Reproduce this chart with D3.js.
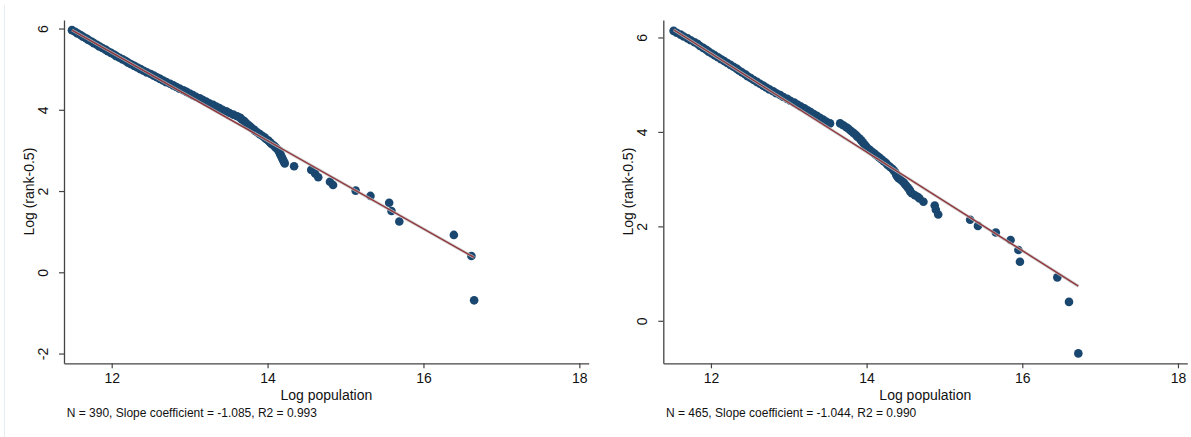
<!DOCTYPE html>
<html>
<head>
<meta charset="utf-8">
<script src="https://cdn.jsdelivr.net/npm/d3@7"></script>
<style>
  html, body { margin: 0; padding: 0; background: #fff; }
  svg { display: block; }
  text { font-family: "Liberation Sans", Arial, Helvetica, sans-serif; fill: #111; }
</style>
</head>
<body>
<svg id="chart" width="1191" height="437"></svg>
<script>
// ---------------- DATA ----------------
const xTicks = [12, 14, 16, 18];
const leftYTicks = [-2, 0, 2, 4, 6];
const rightYTicks = [0, 2, 4, 6];
const xTitle = "Log population";
const yTitle = "Log (rank-0.5)";
const leftCaption = "N = 390, Slope coefficient = -1.085, R2 = 0.993";
const rightCaption = "N = 465, Slope coefficient = -1.044, R2 = 0.990";
const leftSlope = -1.085, leftIntercept = 18.43;
const rightSlope = -1.044, rightIntercept = 18.19;

// Left panel: log population (x) and log(rank-0.5) (y)
const leftLogPop = [
  11.49,11.53,11.56,11.60,11.63,11.67,11.70,11.74,11.77,11.81,11.84,11.88,11.92,11.95,11.99,12.03,
  12.06,12.10,12.14,12.18,12.21,12.25,12.29,12.33,12.37,12.41,12.45,12.50,12.54,12.58,12.62,12.66,
  12.70,12.75,12.79,12.83,12.87,12.92,12.96,13.00,13.04,13.08,13.13,13.17,13.21,13.25,13.30,13.34,
  13.38,13.42,13.47,13.51,13.56,13.61,13.65,13.67,13.70,13.72,13.74,13.77,13.79,13.82,13.84,13.87,
  13.90,13.93,13.96,13.98,14.01,14.03,14.05,14.08,14.10,14.12,14.14,14.15,14.16,14.17,14.18,14.19,
  14.20,14.21,14.22,
  14.34,14.56,14.61,14.65,14.80,14.84,15.13,15.32,15.56,15.59,15.69,16.39,16.615,16.65
];
const leftLogRank = [
  5.96,5.92,5.88,5.84,5.80,5.76,5.72,5.68,5.64,5.60,5.56,5.52,5.48,5.44,5.40,5.36,
  5.32,5.28,5.24,5.20,5.16,5.12,5.08,5.04,5.00,4.96,4.92,4.88,4.84,4.80,4.76,4.72,
  4.68,4.64,4.60,4.56,4.52,4.48,4.44,4.40,4.36,4.32,4.28,4.24,4.20,4.16,4.12,4.08,
  4.04,4.00,3.96,3.92,3.88,3.84,3.80,3.76,3.72,3.68,3.64,3.60,3.56,3.52,3.48,3.44,
  3.40,3.36,3.32,3.28,3.24,3.20,3.16,3.12,3.08,3.04,3.00,2.96,2.92,2.88,2.84,2.80,
  2.76,2.72,2.68,
  2.61,2.52,2.43,2.34,2.23,2.15,2.01,1.88,1.71,1.51,1.25,0.92,0.40,-0.69
];

// Right panel
const rightLogPop = [
  11.52,11.56,11.61,11.65,11.70,11.74,11.79,11.83,11.86,11.90,11.94,11.97,12.01,12.05,12.09,12.13,
  12.17,12.21,12.25,12.29,12.33,12.36,12.40,12.44,12.47,12.51,12.55,12.59,12.63,12.67,12.71,12.75,
  12.80,12.84,12.89,12.93,12.98,13.02,13.07,13.11,13.15,13.20,13.24,13.28,13.32,13.36,13.40,13.44,
  13.48,13.53,
  13.66,13.70,13.74,13.77,13.80,13.83,13.86,13.88,13.91,13.93,13.95,13.97,13.99,14.01,14.04,14.07,
  14.10,14.13,14.16,14.19,14.22,14.25,14.27,14.30,14.33,14.35,14.37,14.38,14.39,14.41,14.44,14.47,
  14.49,14.51,14.53,14.55,14.56,14.58,14.62,14.66,14.68,
  14.73,14.875,14.89,14.92,15.33,15.43,15.66,15.85,15.95,15.97,16.45,16.60,16.72
];
const rightLogRank = [
  6.14,6.10,6.06,6.02,5.98,5.94,5.90,5.86,5.82,5.78,5.74,5.70,5.66,5.62,5.58,5.54,
  5.50,5.46,5.42,5.38,5.34,5.30,5.26,5.22,5.18,5.14,5.10,5.06,5.02,4.98,4.94,4.90,
  4.86,4.82,4.78,4.74,4.70,4.66,4.62,4.58,4.54,4.50,4.46,4.42,4.38,4.34,4.30,4.26,
  4.22,4.18,
  4.18,4.14,4.10,4.06,4.02,3.98,3.94,3.90,3.86,3.82,3.78,3.74,3.70,3.66,3.62,3.58,
  3.54,3.50,3.46,3.42,3.38,3.34,3.30,3.26,3.22,3.18,3.14,3.10,3.06,3.02,2.98,2.94,
  2.90,2.86,2.82,2.78,2.74,2.70,2.66,2.62,2.59,
  2.52,2.44,2.35,2.25,2.14,2.01,1.87,1.71,1.50,1.25,0.92,0.40,-0.69
];

// ---------------- DRAWING ----------------
const svg = d3.select("#chart");
const dotColor = "#1a476f";
const lineColor = "#90353b";
const fmt = d => String(d);   // plain hyphen-minus, as in the original

// faint graph-region border on the far left
svg.append("line").attr("x1", 4.5).attr("x2", 4.5).attr("y1", 5).attr("y2", 437)
  .attr("stroke", "#e6edf3").attr("stroke-width", 1);

function panel(cfg) {
  const x = d3.scaleLinear().domain(cfg.xDomain).range([cfg.left, cfg.right]);
  const y = d3.scaleLinear().domain(cfg.yDomain).range([cfg.bottom, cfg.top]);
  const g = svg.append("g");

  // y axis
  const ya = g.append("g").attr("transform", `translate(${cfg.left},0)`)
    .call(d3.axisLeft(y).tickValues(cfg.yTicks).tickSize(5).tickSizeOuter(0).tickFormat(fmt));
  ya.select(".domain").attr("stroke", "#444").attr("stroke-width", 1.3);
  ya.selectAll(".tick line").attr("stroke", "#444").attr("stroke-width", 1.2);
  ya.selectAll(".tick text")
    .attr("x", null).attr("dy", null).attr("y", null)
    .attr("transform", "translate(-16,0) rotate(-90)")
    .attr("text-anchor", "middle")
    .style("font-size", "14px").style("font-family", "'Liberation Sans', Arial, sans-serif").attr("fill", "#111");

  // x axis
  const xa = g.append("g").attr("transform", `translate(0,${cfg.bottom})`)
    .call(d3.axisBottom(x).tickValues(xTicks).tickSize(5).tickPadding(5).tickSizeOuter(0).tickFormat(fmt));
  xa.select(".domain").attr("stroke", "#444").attr("stroke-width", 1.3);
  xa.selectAll(".tick line").attr("stroke", "#444").attr("stroke-width", 1.2);
  xa.selectAll(".tick text")
    .style("font-size", "14px").style("font-family", "'Liberation Sans', Arial, sans-serif").attr("fill", "#111");

  // titles
  g.append("text").attr("x", (cfg.left + cfg.right) / 2).attr("y", 400)
    .attr("text-anchor", "middle").style("font-size", "14px").text(xTitle);
  g.append("text")
    .attr("transform", `translate(${cfg.left - 30.5},${(cfg.top + cfg.bottom) / 2}) rotate(-90)`)
    .attr("text-anchor", "middle").style("font-size", "14px").text(yTitle);
  g.append("text").attr("x", cfg.left + 2.7).attr("y", 417)
    .style("font-size", "12px").text(cfg.caption);

  // points
  const pts = cfg.xs.map((v, i) => ({ x: v, y: cfg.ys[i] }));
  g.append("g").selectAll("circle").data(pts).join("circle")
    .attr("cx", d => x(d.x)).attr("cy", d => y(d.y)).attr("r", 4.3)
    .attr("fill", dotColor);

  // fitted line
  const [xmin, xmax] = d3.extent(cfg.xs);
  const fit = [xmin, xmax].map(v => ({ x: v, y: cfg.intercept + cfg.slope * v }));
  const lg = d3.line().x(d => x(d.x)).y(d => y(d.y));
  g.append("path").attr("d", lg(fit)).attr("fill", "none")
    .attr("stroke", "#c4c4c4").attr("stroke-width", 3).attr("stroke-opacity", 0.8);
  g.append("path").attr("d", lg(fit)).attr("fill", "none")
    .attr("stroke", lineColor).attr("stroke-width", 1.4);
}

panel({
  left: 64, right: 588.7, top: 20, bottom: 363.3,
  xDomain: [11.388, 18.12], yDomain: [-2.24, 6.21],
  yTicks: leftYTicks, xs: leftLogPop, ys: leftLogRank,
  slope: leftSlope, intercept: leftIntercept, caption: leftCaption
});
panel({
  left: 663.3, right: 1187.3, top: 20, bottom: 363.3,
  xDomain: [11.388, 18.12], yDomain: [-0.90, 6.37],
  yTicks: rightYTicks, xs: rightLogPop, ys: rightLogRank,
  slope: rightSlope, intercept: rightIntercept, caption: rightCaption
});
</script>
</body>
</html>
